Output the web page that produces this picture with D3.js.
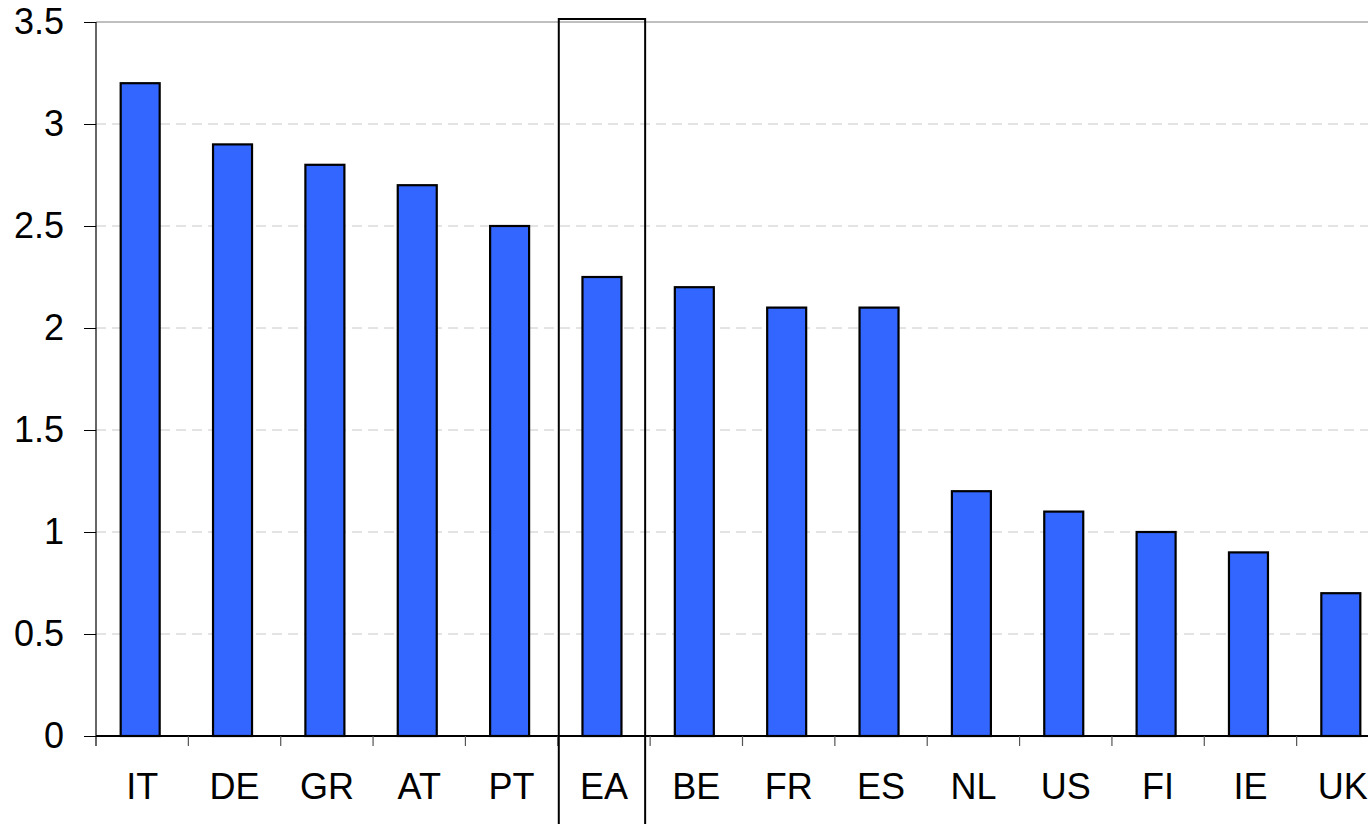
<!DOCTYPE html>
<html>
<head>
<meta charset="utf-8">
<script src="https://cdn.jsdelivr.net/npm/d3@7"></script>
<style>
  body { margin: 0; background: #fff; }
  svg { display: block; font-family: "Liberation Sans", Arial, sans-serif; }
</style>
</head>
<body>
<svg width="1368" height="824"></svg>
<script>
var categories = ["IT", "DE", "GR", "AT", "PT", "EA", "BE", "FR", "ES", "NL", "US", "FI", "IE", "UK"];
var values = [3.2, 2.9, 2.8, 2.7, 2.5, 2.25, 2.2, 2.1, 2.1, 1.2, 1.1, 1.0, 0.9, 0.7];
var yTicks = [0, 0.5, 1, 1.5, 2, 2.5, 3, 3.5];
var highlight = "EA";

var svg = d3.select("svg");
var plotLeft = 96, plotRight = 1389, plotTop = 22, plotBottom = 736;

var x = d3.scaleBand().domain(categories).range([plotLeft, plotRight]).padding(0);
var y = d3.scaleLinear().domain([0, 3.5]).range([plotBottom, plotTop]);
var step = x.step(), bw = 39;

// gridlines
var grid = svg.append("g").attr("class", "grid");
grid.selectAll("line")
    .data(yTicks.filter(t => t > 0))
    .enter().append("line")
    .attr("x1", plotLeft).attr("x2", 1368)
    .attr("y1", d => y(d)).attr("y2", d => y(d))
    .attr("stroke", d => d === 3.5 ? "#808080" : "#c8c8c8")
    .attr("stroke-width", 1)
    .attr("stroke-dasharray", d => d === 3.5 ? null : "10,6");

// bars
svg.append("g").selectAll("rect")
    .data(categories)
    .enter().append("rect")
    .attr("x", (c) => x(c) + (step - bw) / 2 - 2)
    .attr("width", bw)
    .attr("y", (c, i) => y(values[i]))
    .attr("height", (c, i) => y(0) - y(values[i]))
    .attr("fill", "#3366ff")
    .attr("stroke", "#000")
    .attr("stroke-width", 2.2);

// y axis
var yAxis = svg.append("g")
    .attr("transform", "translate(" + plotLeft + ",0)")
    .call(d3.axisLeft(y).tickValues(yTicks).tickSize(12).tickPadding(20)
        .tickFormat(d => d3.format("")(d)));
yAxis.select(".domain").remove();
yAxis.selectAll("line").attr("stroke", "#000");
yAxis.selectAll("text").attr("font-size", 36).attr("fill", "#000")
    .attr("font-family", "'Liberation Sans', Arial, sans-serif");
svg.append("line")
    .attr("x1", plotLeft).attr("x2", plotLeft)
    .attr("y1", plotTop).attr("y2", plotBottom + 10)
    .attr("stroke", "#000").attr("stroke-width", 1.2);

// x axis
svg.append("line")
    .attr("x1", plotLeft).attr("x2", 1368)
    .attr("y1", plotBottom).attr("y2", plotBottom)
    .attr("stroke", "#000").attr("stroke-width", 2);
svg.append("g").selectAll("line")
    .data(categories.slice(1))
    .enter().append("line")
    .attr("x1", c => x(c)).attr("x2", c => x(c))
    .attr("y1", plotBottom).attr("y2", plotBottom + 10)
    .attr("stroke", "#555").attr("stroke-width", 1.2);

var xAxis = svg.append("g")
    .attr("transform", "translate(0," + plotBottom + ")")
    .call(d3.axisBottom(x).tickSize(0).tickPadding(37));
xAxis.select(".domain").remove();
xAxis.selectAll("text").attr("font-size", 36).attr("fill", "#000")
    .attr("font-family", "'Liberation Sans', Arial, sans-serif");

// highlight box
svg.append("rect")
    .attr("x", x(highlight) + 1)
    .attr("width", step - 6)
    .attr("y", plotTop - 3)
    .attr("height", 824)
    .attr("fill", "none")
    .attr("stroke", "#000")
    .attr("stroke-width", 2);
</script>
</body>
</html>
